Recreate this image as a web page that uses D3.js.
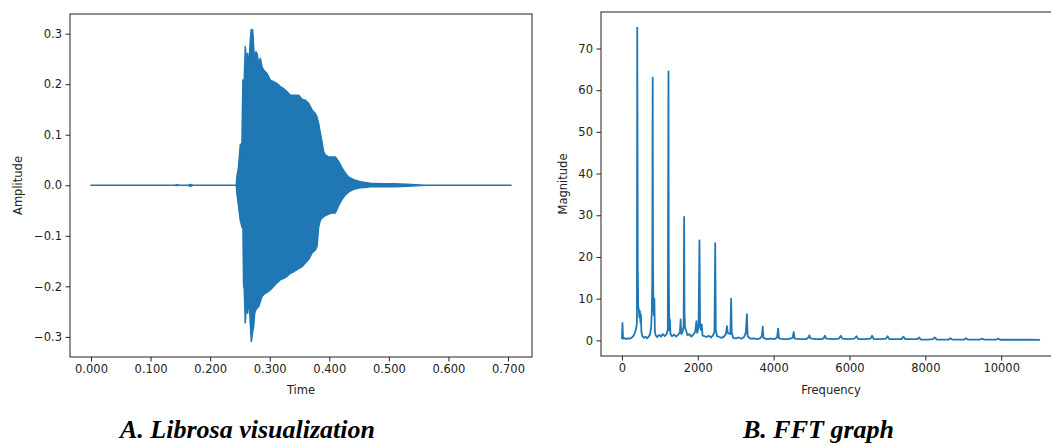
<!DOCTYPE html>
<html>
<head>
<meta charset="utf-8">
<script src="https://cdn.jsdelivr.net/npm/d3@7"></script>
<style>
  body { margin: 0; background: #fff; }
  svg { display: block; }
  .tick text { font-family: "DejaVu Sans", sans-serif; font-size: 11.5px; fill: #222; }
  .tick line { stroke: #222; }
  .lab { font-family: "DejaVu Sans", sans-serif; font-size: 11.5px; fill: #222; }
  .cap { font-family: "Liberation Serif", "Times New Roman", serif; font-size: 26px; font-weight: bold; font-style: italic; fill: #000; }
</style>
</head>
<body>
<svg id="chart"></svg>
<script>
// waveform envelope (seconds, amplitude)
const waveTime = [0, 0.140, 0.144, 0.148, 0.163, 0.167, 0.171, 0.2439, 0.2450, 0.2478, 0.2506, 0.2534, 0.2551,
  0.2562, 0.2573, 0.2590, 0.2607, 0.2629, 0.2646, 0.2663, 0.2674, 0.2691, 0.2713, 0.2730, 0.2747, 0.2769,
  0.2786, 0.2814, 0.2842, 0.2870, 0.2898, 0.2954, 0.3010, 0.3066, 0.3122, 0.3178, 0.3234, 0.3290, 0.3346,
  0.3402, 0.3486, 0.3542, 0.3597, 0.3653, 0.3709, 0.3765, 0.3793, 0.3821, 0.3849, 0.3877, 0.3905, 0.3933,
  0.3989, 0.4045, 0.4101, 0.4157, 0.4213, 0.4269, 0.4325, 0.4409, 0.4521, 0.4633, 0.4689, 0.490, 0.510,
  0.530, 0.560, 0.705];
const waveUpper = [0, 0, 0.001, 0, 0, 0.0015, 0, 0, 0.017, 0.037, 0.080, 0.083, 0.208,
  0.208, 0.208, 0.274, 0.241, 0.261, 0.228, 0.260, 0.287, 0.308, 0.307, 0.274, 0.241, 0.264,
  0.261, 0.241, 0.251, 0.234, 0.228, 0.221, 0.208, 0.205, 0.201, 0.195, 0.191, 0.185, 0.178,
  0.178, 0.178, 0.170, 0.168, 0.162, 0.149, 0.142, 0.135, 0.122, 0.103, 0.086, 0.066, 0.060,
  0.056, 0.056, 0.056, 0.047, 0.034, 0.024, 0.016, 0.011, 0.007, 0.005, 0.004, 0.003, 0.003,
  0.002, 0, 0];
const waveLower = [0, 0, -0.0005, 0, 0, -0.002, 0, 0, -0.016, -0.042, -0.069, -0.082, -0.085,
  -0.200, -0.205, -0.272, -0.233, -0.253, -0.220, -0.246, -0.270, -0.309, -0.289, -0.279, -0.253, -0.246,
  -0.243, -0.240, -0.230, -0.220, -0.216, -0.212, -0.207, -0.200, -0.193, -0.187, -0.184, -0.180, -0.174,
  -0.171, -0.165, -0.161, -0.154, -0.147, -0.134, -0.128, -0.121, -0.082, -0.069, -0.065, -0.062, -0.060,
  -0.057, -0.055, -0.055, -0.040, -0.028, -0.019, -0.013, -0.008, -0.005, -0.004, -0.003, -0.003, -0.003,
  -0.002, 0, 0];

// FFT magnitude (Hz, magnitude)
const fftFreq = [0, 15, 30, 60, 100, 150, 200, 250, 300, 340, 370, 395, 405, 412, 418, 430, 445, 460, 475, 490,
  500, 515, 540, 580, 620, 660, 700, 740, 770, 790, 800, 812, 818, 828, 840, 855, 870, 890, 930, 980,
  1030, 1080, 1130, 1180, 1210, 1228, 1236, 1250, 1265, 1280, 1320, 1380, 1430, 1480, 1530, 1548, 1565, 1600, 1628, 1640,
  1650, 1665, 1690, 1730, 1780, 1830, 1880, 1930, 1965, 1985, 2020, 2045, 2060, 2080, 2105, 2125, 2170, 2230, 2290, 2350,
  2400, 2440, 2460, 2475, 2510, 2570, 2630, 2690, 2740, 2770, 2790, 2860, 2880, 2895, 2930, 3000, 3080, 3150, 3220, 3265,
  3295, 3315, 3380, 3470, 3560, 3640, 3690, 3712, 3730, 3820, 3920, 4020, 4090, 4120, 4140, 4250, 4380, 4500, 4530, 4555,
  4700, 4850, 4910, 4940, 4970, 5100, 5250, 5320, 5355, 5390, 5550, 5720, 5770, 5810, 5950, 6130, 6183, 6230, 6400, 6550,
  6596, 6640, 6820, 6960, 7005, 7050, 7230, 7370, 7420, 7470, 7650, 7790, 7836, 7880, 8060, 8200, 8250, 8300, 8480, 8620,
  8662, 8710, 8900, 9030, 9076, 9120, 9300, 9440, 9490, 9540, 9700, 9870, 9921, 9970, 10300, 10700, 11025];
const fftMag = [0.3, 4.2, 0.4, 0.6, 0.3, 0.5, 0.4, 0.6, 1.0, 1.8, 2.6, 4.0, 75.0, 43, 17.4, 8.2, 7.4, 5.5, 7.0, 4.2,
  6.2, 2.0, 1.0, 0.6, 0.9, 0.5, 0.8, 1.4, 3.0, 7.4, 14.2, 63.0, 21.8, 10.3, 6.0, 10.0, 2.0, 1.2, 0.8, 1.3,
  0.9, 1.5, 1.0, 1.6, 2.5, 64.5, 15, 2.4, 5.0, 1.5, 1.0, 1.4, 0.9, 1.3, 2.0, 5.0, 1.5, 2.0, 3.5, 29.6,
  6.6, 3.0, 2.4, 1.2, 1.5, 0.9, 1.4, 2.0, 4.6, 1.8, 3.0, 24.0, 4.0, 2.5, 3.8, 1.2, 1.0, 0.8, 1.1, 0.7,
  1.2, 2.0, 23.3, 2.5, 1.0, 0.8, 0.6, 0.9, 1.5, 3.4, 1.8, 1.5, 10.0, 2.0, 0.6, 0.5, 0.7, 0.4, 0.8, 1.8,
  6.3, 1.0, 0.4, 0.5, 0.3, 0.5, 1.0, 3.3, 0.6, 0.3, 0.4, 0.3, 0.7, 2.8, 0.5, 0.3, 0.3, 0.6, 2.0, 0.4,
  0.3, 0.3, 0.6, 1.2, 0.5, 0.3, 0.3, 0.5, 1.1, 0.4, 0.3, 0.4, 1.1, 0.4, 0.3, 0.4, 1.0, 0.3, 0.3, 0.4,
  1.1, 0.3, 0.3, 0.4, 1.0, 0.3, 0.3, 0.3, 0.9, 0.3, 0.3, 0.3, 0.7, 0.2, 0.2, 0.3, 0.7, 0.2, 0.2, 0.2,
  0.5, 0.2, 0.2, 0.2, 0.5, 0.2, 0.2, 0.2, 0.4, 0.2, 0.2, 0.2, 0.4, 0.15, 0.15, 0.15, 0.1];

const timeTicks = [0, 0.1, 0.2, 0.3, 0.4, 0.5, 0.6, 0.7];
const ampTicks = [-0.3, -0.2, -0.1, 0, 0.1, 0.2, 0.3];
const freqTicks = [0, 2000, 4000, 6000, 8000, 10000];
const magTicks = [0, 10, 20, 30, 40, 50, 60, 70];

const blue = "#1f77b4";
const W = 1051, H = 447;

const svg = d3.select("#chart").attr("width", W).attr("height", H);

// matplotlib style 5% padding
function pad(ext) {
    const d = (ext[1] - ext[0]) * 0.05;
    return [ext[0] - d, ext[1] + d];
}

function frame(g, x, y, w, h) {
    g.append("rect")
        .attr("x", x).attr("y", y).attr("width", w).attr("height", h)
        .attr("fill", "none").attr("stroke", "#222").attr("stroke-width", 1);
}

// ---- A: waveform ----
const a = { left: 70, top: 14, right: 532, bottom: 357 };

const xA = d3.scaleLinear().domain(pad(d3.extent(waveTime))).range([a.left, a.right]);
const yA = d3.scaleLinear()
    .domain(pad([d3.min(waveLower), d3.max(waveUpper)]))
    .range([a.bottom, a.top]);

const wave = waveTime.map((t, i) => ({ t: t, hi: waveUpper[i], lo: waveLower[i] }));

const area = d3.area()
    .x(d => xA(d.t))
    .y0(d => yA(d.lo))
    .y1(d => yA(d.hi));

svg.append("path")
    .datum(wave)
    .attr("fill", blue)
    .attr("stroke", blue)
    .attr("stroke-width", 1.6)
    .attr("stroke-linejoin", "round")
    .attr("d", area);

svg.append("g")
    .attr("transform", `translate(0,${a.bottom})`)
    .call(d3.axisBottom(xA).tickValues(timeTicks).tickFormat(d3.format(".3f")).tickSize(4.5).tickPadding(3.5))
    .call(g => g.select(".domain").remove());

svg.append("g")
    .attr("transform", `translate(${a.left},0)`)
    .call(d3.axisLeft(yA).tickValues(ampTicks).tickFormat(d3.format(".1f")).tickSize(4.5).tickPadding(3.5))
    .call(g => g.select(".domain").remove());

frame(svg, a.left, a.top, a.right - a.left, a.bottom - a.top);

svg.append("text").attr("class", "lab")
    .attr("x", (a.left + a.right) / 2).attr("y", 394)
    .attr("text-anchor", "middle").text("Time");

svg.append("text").attr("class", "lab")
    .attr("transform", `translate(22,${(a.top + a.bottom) / 2}) rotate(-90)`)
    .attr("text-anchor", "middle").text("Amplitude");

// ---- B: FFT ----
const b = { left: 601, top: 12, right: 1061, bottom: 356 };

const xB = d3.scaleLinear().domain(pad(d3.extent(fftFreq))).range([b.left, b.right]);
const yB = d3.scaleLinear().domain(pad([0, d3.max(fftMag)])).range([b.bottom, b.top]);

const line = d3.line()
    .x((d, i) => xB(fftFreq[i]))
    .y(d => yB(d));

svg.append("path")
    .datum(fftMag)
    .attr("fill", "none")
    .attr("stroke", blue)
    .attr("stroke-width", 1.8)
    .attr("stroke-linejoin", "round")
    .attr("d", line);

svg.append("g")
    .attr("transform", `translate(0,${b.bottom})`)
    .call(d3.axisBottom(xB).tickValues(freqTicks).tickFormat(d3.format("d")).tickSize(4.5).tickPadding(3.5))
    .call(g => g.select(".domain").remove());

svg.append("g")
    .attr("transform", `translate(${b.left},0)`)
    .call(d3.axisLeft(yB).tickValues(magTicks).tickFormat(d3.format("d")).tickSize(4.5).tickPadding(3.5))
    .call(g => g.select(".domain").remove());

frame(svg, b.left, b.top, b.right - b.left, b.bottom - b.top);

svg.append("text").attr("class", "lab")
    .attr("x", (b.left + b.right) / 2).attr("y", 394)
    .attr("text-anchor", "middle").text("Frequency");

svg.append("text").attr("class", "lab")
    .attr("transform", `translate(567,${(b.top + b.bottom) / 2}) rotate(-90)`)
    .attr("text-anchor", "middle").text("Magnitude");

// captions under the panels
svg.append("text").attr("class", "cap").attr("x", 120).attr("y", 438).text("A. Librosa visualization");
svg.append("text").attr("class", "cap").attr("x", 743).attr("y", 438).text("B. FFT graph");
</script>
</body>
</html>
